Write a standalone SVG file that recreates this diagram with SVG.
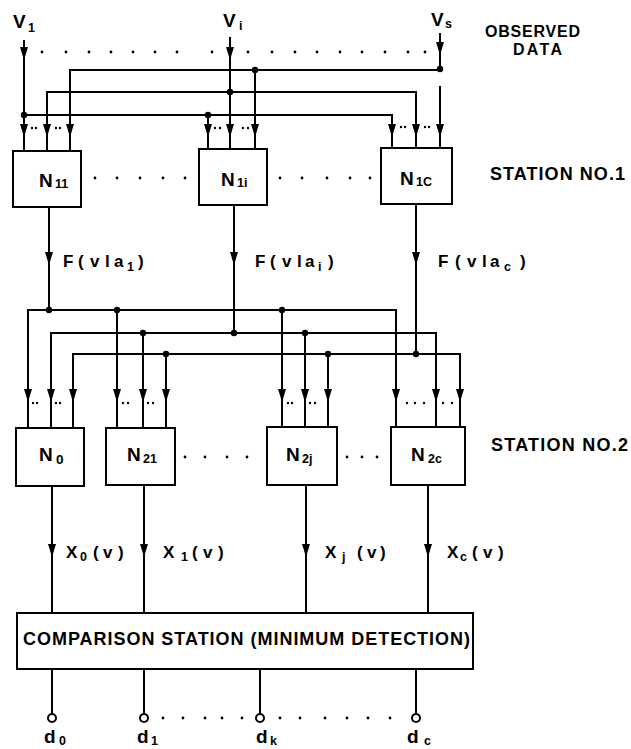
<svg xmlns="http://www.w3.org/2000/svg" width="631" height="749" viewBox="0 0 631 749">
<style>
.ln{fill:none;stroke:#000;stroke-width:2}
.bx{fill:#fff;stroke:#000;stroke-width:2}
.t{font-family:"Liberation Sans",Arial,sans-serif;font-weight:bold;fill:#000}
.big{font-size:19px}
.sub{font-size:12.5px}
.lbl{font-size:17px}
.dt{fill:#000}
.jn{fill:#000}
.oc{fill:#fff;stroke:#000;stroke-width:2}
</style>
<defs>
<path id="ah" d="M-4,-13 L4,-13 L0,0 Z" fill="#000"/>
</defs>
<rect width="631" height="749" fill="#fff"/>

<!-- inputs -->
<g id="inputs">
<text class="t big" x="13" y="28">V</text><text class="t sub" x="28" y="32">1</text>
<text class="t big" x="223" y="27">V</text><text class="t sub" x="239" y="30">i</text>
<text class="t big" x="431" y="26">V</text><text class="t sub" x="445" y="28">s</text>
<text class="t" x="485" y="37" font-size="16" textLength="95" lengthAdjust="spacing">OBSERVED</text>
<text class="t" x="513" y="55" font-size="16" textLength="49" lengthAdjust="spacing">DATA</text>
</g>

<!-- connectors -->
<g id="connectors">
<path class="ln" d="M24,40 V151 M230,37 V149 M440,33 V69 M440,86 V148"/>
<path class="ln" d="M24,115 H392 V148 M208,115 V149"/>
<path class="ln" d="M47,151 V92 H416 V148"/>
<path class="ln" d="M70,151 V70 H440 M255,70 V149"/>
<path class="ln" d="M49,207 V310 M234,205 V333 M416,204 V354"/>
<path class="ln" d="M28,428 V310 H396 V427 M117,310 V428 M282,310 V427"/>
<path class="ln" d="M51,428 V333 H436 V427 M143,333 V428 M305,333 V427"/>
<path class="ln" d="M73,428 V354 H460 V427 M166,354 V428 M328,354 V427"/>
<path class="ln" d="M52,486 V613 M144,485 V613 M306,485 V613 M428,485 V613"/>
<path class="ln" d="M52,669 V714 M144,669 V714 M260,669 V714 M416,669 V714"/>

<use href="#ah" x="24" y="60"/><use href="#ah" x="230" y="60"/><use href="#ah" x="440" y="55"/>
<use href="#ah" x="24" y="137"/><use href="#ah" x="47" y="137"/><use href="#ah" x="70" y="137"/>
<use href="#ah" x="208" y="137"/><use href="#ah" x="230" y="137"/><use href="#ah" x="255" y="137"/>
<use href="#ah" x="392" y="137"/><use href="#ah" x="416" y="137"/><use href="#ah" x="440" y="137"/>
<use href="#ah" x="49" y="265"/><use href="#ah" x="234" y="265"/><use href="#ah" x="416" y="265"/>
<use href="#ah" x="28" y="402"/><use href="#ah" x="51" y="402"/><use href="#ah" x="73" y="402"/>
<use href="#ah" x="117" y="402"/><use href="#ah" x="143" y="402"/><use href="#ah" x="166" y="402"/>
<use href="#ah" x="282" y="402"/><use href="#ah" x="305" y="402"/><use href="#ah" x="328" y="402"/>
<use href="#ah" x="396" y="402"/><use href="#ah" x="436" y="402"/><use href="#ah" x="460" y="402"/>
<use href="#ah" x="52" y="557"/><use href="#ah" x="144" y="557"/><use href="#ah" x="306" y="557"/><use href="#ah" x="428" y="557"/>

<circle class="jn" cx="24" cy="115" r="3.2"/><circle class="jn" cx="208" cy="115" r="3.2"/>
<circle class="jn" cx="230" cy="92" r="3.2"/><circle class="jn" cx="255" cy="70" r="3.2"/>
<circle class="jn" cx="440" cy="69" r="3.2"/>
<circle class="jn" cx="49" cy="310" r="3.2"/><circle class="jn" cx="117" cy="310" r="3.2"/><circle class="jn" cx="282" cy="310" r="3.2"/>
<circle class="jn" cx="143" cy="333" r="3.2"/><circle class="jn" cx="234" cy="333" r="3.2"/><circle class="jn" cx="305" cy="333" r="3.2"/>
<circle class="jn" cx="166" cy="354" r="3.2"/><circle class="jn" cx="328" cy="354" r="3.2"/><circle class="jn" cx="416" cy="354" r="3.2"/>

<text class="t lbl"><tspan x="63 78 90 105 114" y="267">F(vla</tspan><tspan class="sub" x="127" y="271">1</tspan><tspan x="138" y="267">)</tspan></text>
<text class="t lbl"><tspan x="255 270 282 297 305" y="267">F(vla</tspan><tspan class="sub" x="318" y="271">i</tspan><tspan x="328" y="267">)</tspan></text>
<text class="t lbl"><tspan x="438 455 467 482 490" y="267">F(vla</tspan><tspan class="sub" x="504" y="271">c</tspan><tspan x="520" y="267">)</tspan></text>
<text class="t lbl"><tspan x="66" y="558">X</tspan><tspan class="sub" x="80" y="561">0</tspan><tspan x="93 103 118" y="558">(v)</tspan></text>
<text class="t lbl"><tspan x="163" y="558">X</tspan><tspan class="sub" x="181" y="561">1</tspan><tspan x="192 203 218" y="558">(v)</tspan></text>
<text class="t lbl"><tspan x="325" y="558">X</tspan><tspan class="sub" x="342" y="561">j</tspan><tspan x="357 367 380" y="558">(v)</tspan></text>
<text class="t lbl"><tspan x="447" y="558">X</tspan><tspan class="sub" x="460" y="561">c</tspan><tspan x="472 483 498" y="558">(v)</tspan></text>
</g>

<g id="ellipses" class="dt">
<circle cx="42" cy="52" r="1.4"/><circle cx="66" cy="52" r="1.4"/><circle cx="89" cy="52" r="1.4"/><circle cx="111" cy="52" r="1.4"/><circle cx="133" cy="52" r="1.4"/><circle cx="155" cy="52" r="1.4"/><circle cx="177" cy="52" r="1.4"/><circle cx="212" cy="52" r="1.4"/><circle cx="248" cy="52" r="1.4"/><circle cx="272" cy="52" r="1.4"/><circle cx="295" cy="52" r="1.4"/><circle cx="317" cy="52" r="1.4"/><circle cx="340" cy="52" r="1.4"/><circle cx="362" cy="52" r="1.4"/><circle cx="385" cy="52" r="1.4"/><circle cx="408" cy="52" r="1.4"/><circle cx="425" cy="52" r="1.4"/>
<circle cx="32" cy="128" r="1.2"/><circle cx="36" cy="128" r="1.2"/><circle cx="56" cy="128" r="1.2"/><circle cx="60" cy="128" r="1.2"/>
<circle cx="215" cy="128" r="1.2"/><circle cx="220" cy="128" r="1.2"/><circle cx="243" cy="128" r="1.2"/><circle cx="248" cy="128" r="1.2"/>
<circle cx="401" cy="127" r="1.2"/><circle cx="405" cy="127" r="1.2"/><circle cx="425" cy="127" r="1.2"/><circle cx="429" cy="127" r="1.2"/>
<circle cx="95" cy="178" r="1.4"/><circle cx="117" cy="178" r="1.4"/><circle cx="140" cy="178" r="1.4"/><circle cx="163" cy="178" r="1.4"/><circle cx="185" cy="178" r="1.4"/>
<circle cx="280" cy="178" r="1.4"/><circle cx="302" cy="178" r="1.4"/><circle cx="327" cy="178" r="1.4"/><circle cx="350" cy="178" r="1.4"/><circle cx="370" cy="178" r="1.4"/>
<circle cx="33" cy="403" r="1.2"/><circle cx="37" cy="403" r="1.2"/><circle cx="56" cy="403" r="1.2"/><circle cx="60" cy="403" r="1.2"/>
<circle cx="123" cy="403" r="1.2"/><circle cx="128" cy="403" r="1.2"/><circle cx="148" cy="403" r="1.2"/><circle cx="153" cy="403" r="1.2"/>
<circle cx="288" cy="403" r="1.2"/><circle cx="292" cy="403" r="1.2"/><circle cx="310" cy="403" r="1.2"/><circle cx="315" cy="403" r="1.2"/>
<circle cx="407" cy="403" r="1.2"/><circle cx="415" cy="403" r="1.2"/><circle cx="424" cy="403" r="1.2"/><circle cx="443" cy="403" r="1.2"/><circle cx="452" cy="403" r="1.2"/>
<circle cx="185" cy="457" r="1.4"/><circle cx="205" cy="457" r="1.4"/><circle cx="227" cy="457" r="1.4"/><circle cx="247" cy="457" r="1.4"/>
<circle cx="347" cy="457" r="1.4"/><circle cx="362" cy="457" r="1.4"/><circle cx="377" cy="457" r="1.4"/>
<circle cx="163" cy="718" r="1.4"/><circle cx="183" cy="718" r="1.4"/><circle cx="205" cy="718" r="1.4"/><circle cx="222" cy="718" r="1.4"/><circle cx="242" cy="718" r="1.4"/>
<circle cx="280" cy="718" r="1.4"/><circle cx="300" cy="718" r="1.4"/><circle cx="325" cy="718" r="1.4"/><circle cx="347" cy="718" r="1.4"/><circle cx="368" cy="718" r="1.4"/><circle cx="390" cy="718" r="1.4"/>
</g>

<g id="n11"><rect class="bx" x="13" y="151" width="68" height="56"/><text class="t big" x="39" y="187">N</text><text class="t sub" x="55" y="188">11</text></g>
<g id="n1i"><rect class="bx" x="199" y="149" width="68" height="56"/><text class="t big" x="221" y="186">N</text><text class="t sub" x="237" y="187">1i</text></g>
<g id="n1c"><rect class="bx" x="381" y="148" width="71" height="56"/><text class="t big" x="400" y="185">N</text><text class="t sub" x="416" y="186">1C</text></g>
<text class="t" x="490" y="180" font-size="18" textLength="135" lengthAdjust="spacing">STATION NO.1</text>

<g id="n0"><rect class="bx" x="16" y="428" width="68" height="58"/><text class="t big" x="39" y="461">N</text><text class="t" font-size="13.5" x="56" y="464">0</text></g>
<g id="n21"><rect class="bx" x="106" y="428" width="69" height="57"/><text class="t big" x="127" y="461">N</text><text class="t sub" x="143" y="463">21</text></g>
<g id="n2j"><rect class="bx" x="267" y="427" width="70" height="58"/><text class="t big" x="286" y="461">N</text><text class="t sub" x="302" y="463">2j</text></g>
<g id="n2c"><rect class="bx" x="391" y="427" width="74" height="58"/><text class="t big" x="411" y="461">N</text><text class="t sub" x="428" y="463">2c</text></g>
<text class="t" x="491" y="451" font-size="18" textLength="137" lengthAdjust="spacing">STATION NO.2</text>

<g id="comparison"><rect class="bx" x="17" y="613" width="456" height="56"/><text class="t" x="23" y="645" font-size="18" textLength="447" lengthAdjust="spacing">COMPARISON STATION (MINIMUM DETECTION)</text></g>

<g id="d0"><circle class="oc" cx="52" cy="718" r="4"/><text class="t big" x="44" y="743">d</text><text class="t sub" x="59" y="745">0</text></g>
<g id="d1"><circle class="oc" cx="144" cy="718" r="4"/><text class="t big" x="137" y="743">d</text><text class="t sub" x="151" y="745">1</text></g>
<g id="dk"><circle class="oc" cx="260" cy="718" r="4"/><text class="t big" x="256" y="743">d</text><text class="t sub" x="270" y="745">k</text></g>
<g id="dc"><circle class="oc" cx="416" cy="718" r="4"/><text class="t big" x="407" y="743">d</text><text class="t sub" x="424" y="745">c</text></g>
</svg>
